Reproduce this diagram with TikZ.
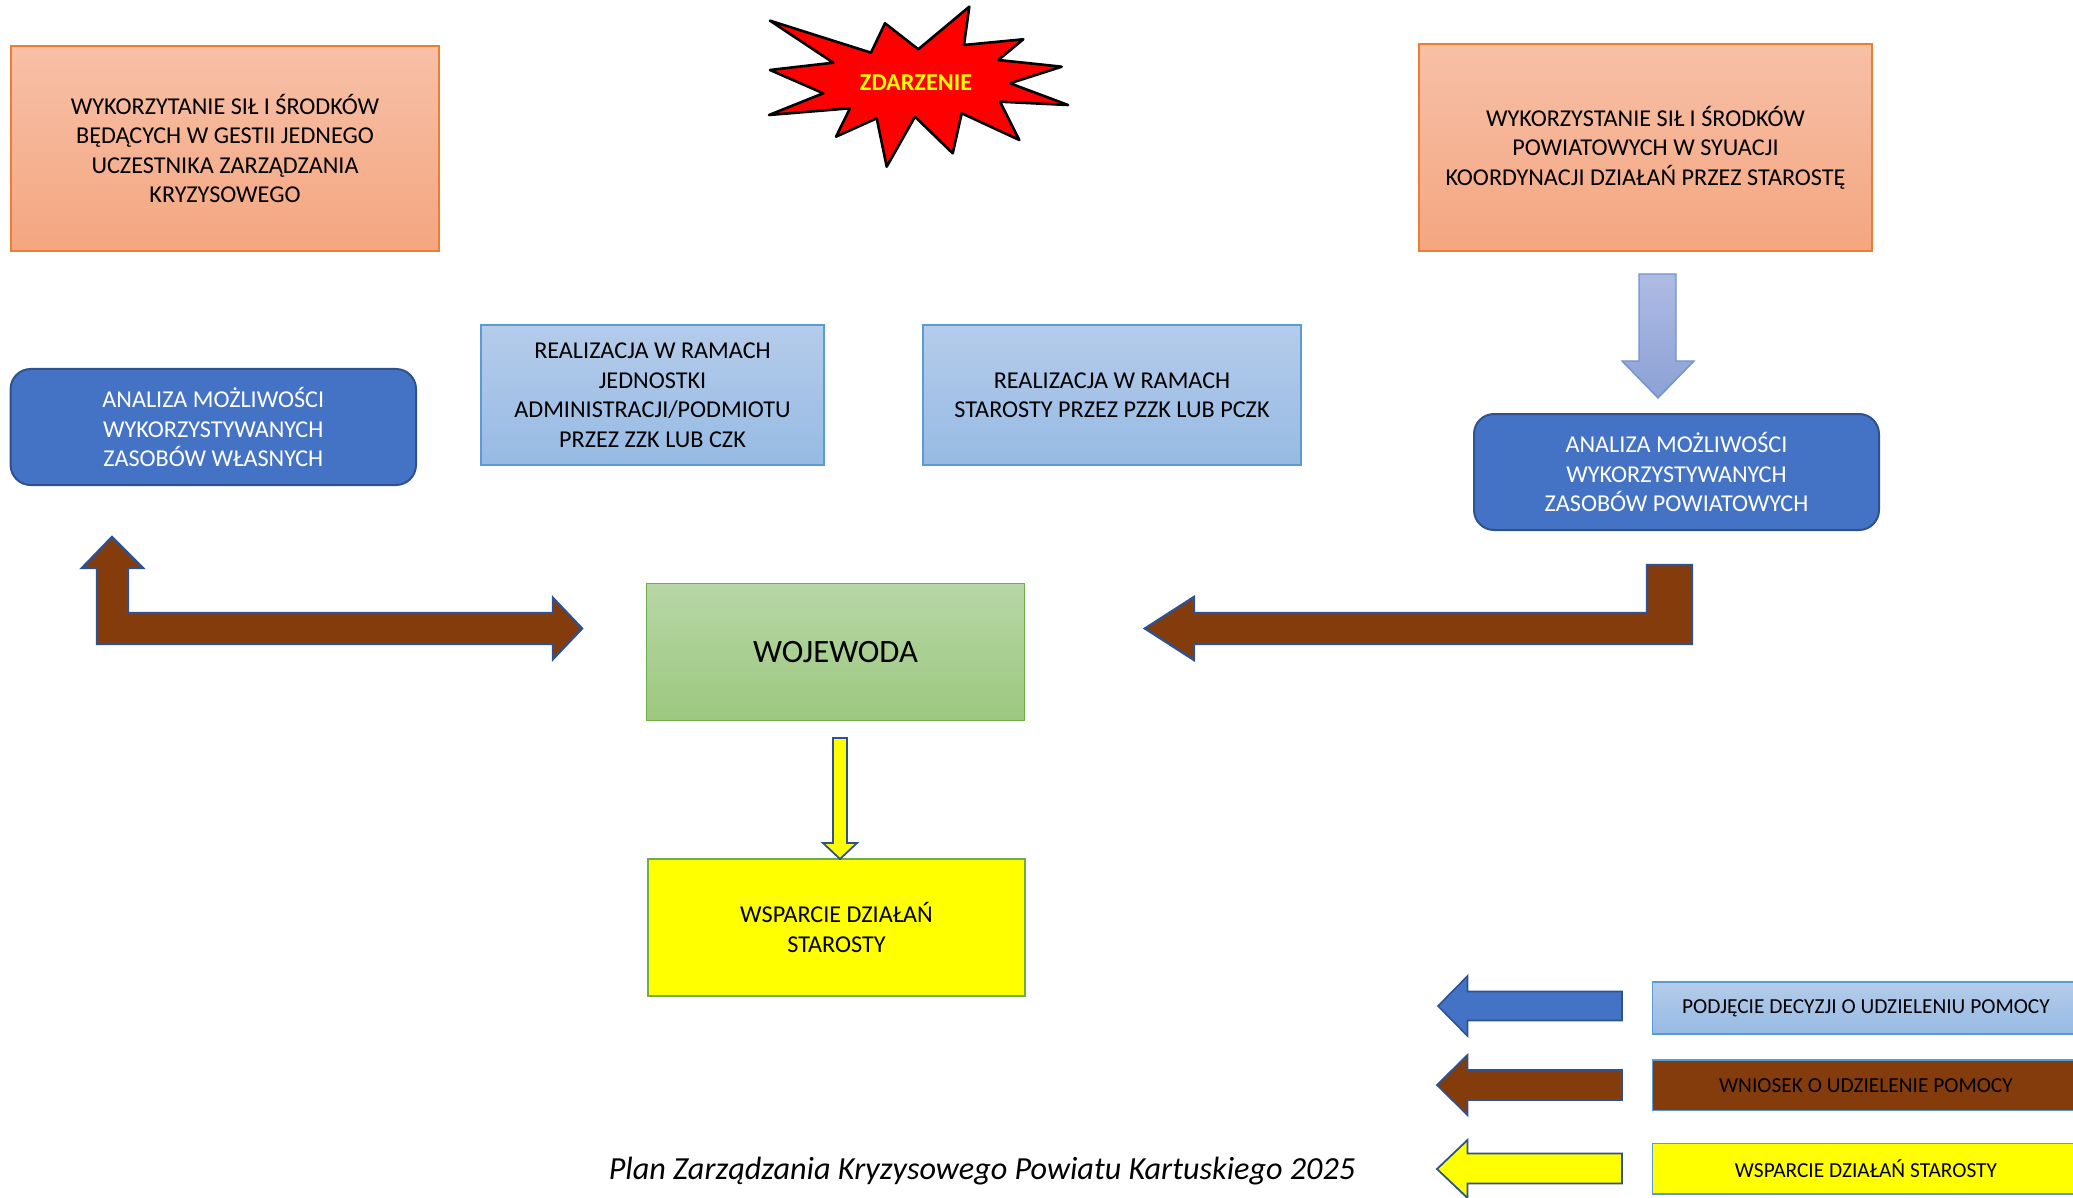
\documentclass[tikz,border=0pt]{standalone}
\usepackage{fontspec}
\setmainfont{Carlito}
\definecolor{orangetop}{RGB}{247,192,167}
\definecolor{orangebot}{RGB}{244,166,128}
\definecolor{orangeborder}{RGB}{237,125,49}
\definecolor{bluefill}{RGB}{68,114,196}
\definecolor{blueborder}{RGB}{47,82,143}
\definecolor{lbtop}{RGB}{181,204,234}
\definecolor{lbbot}{RGB}{150,186,228}
\definecolor{lbborder}{RGB}{91,155,213}
\definecolor{greentop}{RGB}{183,214,165}
\definecolor{greenbot}{RGB}{156,200,128}
\definecolor{greenborder}{RGB}{112,173,71}
\definecolor{brownfill}{RGB}{132,60,12}
\definecolor{arrtop}{RGB}{174,187,227}
\definecolor{arrbot}{RGB}{140,161,213}
\definecolor{arrborder}{RGB}{114,147,208}
\definecolor{pureyellow}{RGB}{255,255,0}
\definecolor{purered}{RGB}{255,0,0}
\newcommand\fsbox{\fontsize{12.1}{14.75}\selectfont}
\tikzset{
  orangebox/.style={draw=orangeborder, line width=0.8pt, top color=orangetop, bottom color=orangebot, align=center, inner sep=0pt, outer sep=0pt, font=\fsbox},
  roundbox/.style={draw=blueborder, line width=1pt, fill=bluefill, rounded corners=10pt, align=center, inner sep=0pt, outer sep=0pt, text=white, font=\fsbox},
  lightbox/.style={draw=lbborder, line width=0.7pt, top color=lbtop, bottom color=lbbot, align=center, inner sep=0pt, outer sep=0pt, font=\fsbox},
  greenbox/.style={draw=greenborder, line width=0.7pt, top color=greentop, bottom color=greenbot, align=center, inner sep=0pt, outer sep=0pt, font=\fontsize{16.3}{19}\selectfont},
  yellowbox/.style={draw=greenborder, line width=0.7pt, fill=pureyellow, align=center, inner sep=0pt, outer sep=0pt, font=\fsbox},
  legendbox/.style={draw=lbborder, line width=0.7pt, align=center, inner sep=0pt, outer sep=0pt, font=\fontsize{10.7}{12.5}\selectfont},
  brownarrow/.style={draw=blueborder, line width=1.2pt, fill=brownfill, line join=miter},
  bluearrow/.style={draw=blueborder, line width=0.8pt, fill=bluefill},
  yellowarrow/.style={draw=blueborder, line width=0.9pt, fill=pureyellow},
  downarrow/.style={draw=arrborder, line width=0.7pt, top color=arrtop, bottom color=arrbot},
  burst/.style={draw=black, line width=1.3pt, fill=purered, line join=round},
}
\begin{document}
\begin{tikzpicture}[x=0.5pt,y=-0.5pt]
\useasboundingbox (0,0) rectangle (2073,1198);
\clip (0,0) rectangle (2073,1198);

% starburst
\draw[burst] (770,20.7) -- (871,52.7) -- (885,23.3) -- (918.3,49.3) -- (969.3,6.7) -- (964,45) -- (1023.3,39.3) -- (998.3,60) -- (1061.7,66.7) -- (1010,83.3) -- (1068,105) -- (1000,101.7) -- (1019.3,140) -- (961.7,113.3) -- (952.7,153.3) -- (915,116.7) -- (886.7,166.7) -- (876.7,118.3) -- (836,136.7) -- (850,108.3) -- (769,115) -- (823.3,93.3) -- (770,70) -- (833.3,62.7) -- cycle;
\node[text=pureyellow, font=\fontsize{12.1}{14}\selectfont\bfseries] (zdarzenie) at (916,83) {ZDARZENIE};

% top boxes
\node[orangebox, minimum width=214.2pt, minimum height=102.5pt] (own) at (225,148.5)
  {WYKORZYTANIE SIŁ I ŚRODKÓW\\BĘDĄCYCH W GESTII JEDNEGO\\UCZESTNIKA ZARZĄDZANIA\\KRYZYSOWEGO};
\node[orangebox, minimum width=226.5pt, minimum height=103.5pt] (pow) at (1645.5,147.5)
  {WYKORZYSTANIE SIŁ I ŚRODKÓW\\POWIATOWYCH W SYUACJI\\KOORDYNACJI DZIAŁAŃ PRZEZ STAROSTĘ};

% analysis boxes
\node[roundbox, minimum width=202.7pt, minimum height=58pt] (anown) at (213.3,427)
  {ANALIZA MOŻLIWOŚCI\\WYKORZYSTYWANYCH\\ZASOBÓW WŁASNYCH};
\node[roundbox, minimum width=202.5pt, minimum height=58pt] (anpow) at (1676.5,472)
  {ANALIZA MOŻLIWOŚCI\\WYKORZYSTYWANYCH\\ZASOBÓW POWIATOWYCH};

% realization boxes
\node[lightbox, minimum width=171.5pt, minimum height=70pt] (real1) at (652.5,395)
  {REALIZACJA W RAMACH\\JEDNOSTKI\\ADMINISTRACJI/PODMIOTU\\PRZEZ ZZK LUB CZK};
\node[lightbox, minimum width=189pt, minimum height=70pt] (real2) at (1112,395)
  {REALIZACJA W RAMACH\\STAROSTY PRZEZ PZZK LUB PCZK};

% wojewoda and support
\node[greenbox, minimum width=189pt, minimum height=68.25pt] (woj) at (835.5,652) {WOJEWODA};
\node[yellowbox, minimum width=188.5pt, minimum height=68.5pt] (wsp) at (836.5,927.5)
  {WSPARCIE DZIAŁAŃ\\STAROSTY};

% blue down arrow
\draw[downarrow] (1639,274) -- (1676,274) -- (1676,361) -- (1694,361) -- (1658,398) -- (1622,361) -- (1639,361) -- cycle;

% left bent double arrow
\draw[brownarrow] (112,537) -- (143,568) -- (128,568) -- (128,613) -- (553,613) -- (553,598) -- (582,628.5) -- (553,659) -- (553,644) -- (97,644) -- (97,568) -- (82,568) -- cycle;

% right bent arrow
\draw[brownarrow] (1145,628.5) -- (1194,597) -- (1194,613) -- (1647,613) -- (1647,565) -- (1692,565) -- (1692,644) -- (1194,644) -- (1194,660) -- cycle;

% yellow down arrow
\draw[yellowarrow] (833,738) -- (847,738) -- (847,843) -- (857,843) -- (840,859) -- (823,843) -- (833,843) -- cycle;

% legend arrows
\draw[bluearrow] (1438,1006) -- (1467.5,976) -- (1467.5,991.5) -- (1622,991.5) -- (1622,1020.5) -- (1467.5,1020.5) -- (1467.5,1036) -- cycle;
\draw[brownarrow, line width=0.9pt] (1437,1085) -- (1467.5,1055) -- (1467.5,1070) -- (1622,1070) -- (1622,1100) -- (1467.5,1100) -- (1467.5,1115) -- cycle;
\draw[yellowarrow] (1437,1169) -- (1467.5,1140) -- (1467.5,1153.5) -- (1622,1153.5) -- (1622,1183.5) -- (1467.5,1183.5) -- (1467.5,1198) -- cycle;

% legend boxes
\node[legendbox, top color=lbtop, bottom color=lbbot, minimum width=213.7pt, minimum height=26pt] (leg1) at (1866,1008)
  {PODJĘCIE DECYZJI O UDZIELENIU POMOCY};
\node[legendbox, fill=brownfill, minimum width=213.7pt, minimum height=25.25pt] (leg2) at (1866,1085.3)
  {WNIOSEK O UDZIELENIE POMOCY};
\node[legendbox, fill=pureyellow, minimum width=213.7pt, minimum height=25.2pt] (leg3) at (1866,1168.8)
  {WSPARCIE DZIAŁAŃ STAROSTY};

% footer
\node[font=\fontsize{16.1}{19}\selectfont\itshape] (footer) at (982,1171)
  {Plan Zarządzania Kryzysowego Powiatu Kartuskiego 2025};
\end{tikzpicture}
\end{document}
